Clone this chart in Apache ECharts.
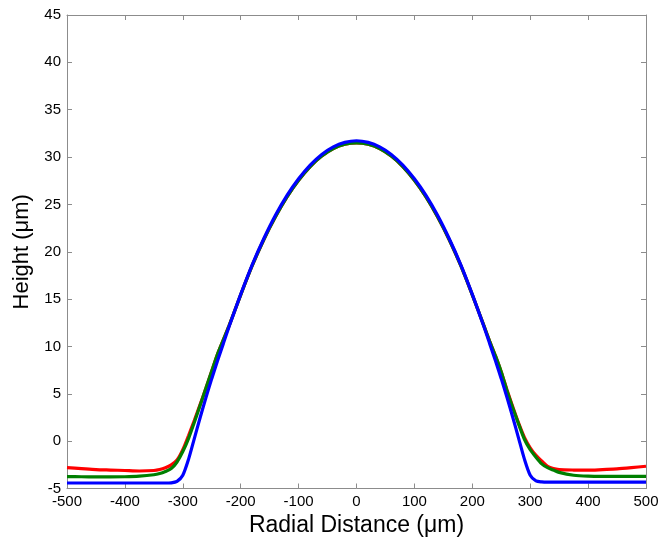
<!DOCTYPE html>
<html>
<head>
<meta charset="utf-8">
<script src="https://cdn.jsdelivr.net/npm/echarts@6/dist/echarts.min.js"></script>
<style>html,body{margin:0;padding:0;background:#fff}#c{width:660px;height:538px}</style>
</head>
<body>
<div id="c"></div>
<script>
var xs = [-500,-475,-450,-425,-400,-375,-350,-340,-330,-320,-310,-300,-290,-280,-270,-260,-250,-240,-230,-220,-200,-180,-160,-140,-120,-100,-80,-60,-40,-20,0,20,40,60,80,100,120,140,160,180,200,220,230,240,250,260,270,280,290,300,310,320,330,340,350,375,400,425,450,475,500];
var redY = [-2.8,-2.9,-3.0,-3.05,-3.1,-3.15,-3.1,-3.0,-2.8,-2.5,-2.0,-0.9,0.6,2.2,3.9,5.6,7.4,9.2,10.7,12.2,15.45,18.55,21.3,23.7,25.8,27.55,29.0,30.1,30.9,31.35,31.5,31.35,30.9,30.1,29.0,27.55,25.8,23.7,21.3,18.55,15.45,12.2,10.55,9.0,7.3,5.4,3.6,1.9,0.4,-0.7,-1.5,-2.1,-2.65,-2.9,-3.0,-3.05,-3.07,-3.0,-2.93,-2.8,-2.65];
var greenY = [-3.75,-3.76,-3.77,-3.77,-3.76,-3.7,-3.55,-3.42,-3.2,-2.9,-2.2,-1.1,0.3,2.0,3.8,5.6,7.4,9.2,10.7,12.2,15.45,18.55,21.3,23.7,25.8,27.55,29.0,30.1,30.9,31.35,31.5,31.35,30.9,30.1,29.0,27.55,25.8,23.7,21.3,18.55,15.45,12.2,10.55,9.0,7.3,5.3,3.5,1.8,0.2,-0.9,-1.7,-2.4,-2.8,-3.05,-3.3,-3.6,-3.7,-3.72,-3.72,-3.72,-3.72];
var blueY = [-4.42,-4.42,-4.42,-4.42,-4.42,-4.42,-4.42,-4.42,-4.42,-4.4,-4.25,-3.6,-1.9,0.3,2.5,4.6,6.6,8.5,10.3,12.1,15.5,18.65,21.4,23.85,25.95,27.7,29.15,30.28,31.08,31.55,31.72,31.55,31.08,30.28,29.15,27.7,25.95,23.85,21.4,18.65,15.5,12.1,10.3,8.5,6.6,4.6,2.5,0.3,-1.9,-3.6,-4.2,-4.3,-4.32,-4.32,-4.32,-4.32,-4.32,-4.32,-4.32,-4.32,-4.32];
var xTicks = [-500,-400,-300,-200,-100,0,100,200,300,400,500];
var yTicks = [-5,0,5,10,15,20,25,30,35,40,45];
var xTitle = 'Radial Distance (\u03bcm)';
var yTitle = 'Height (\u03bcm)';

function pairs(ys){ return xs.map(function(x,i){ return [x, ys[i]]; }); }

var axisColor = '#8c8c8c';
var font = 'Liberation Sans, Arial, sans-serif';
var chart = echarts.init(document.getElementById('c'), null, {renderer:'canvas'});
var baseX = {
  type:'value', min:-500, max:500, interval:100,
  axisLine:{show:true, onZero:false, lineStyle:{color:axisColor, width:1}},
  axisTick:{show:true, inside:true, length:5, lineStyle:{color:axisColor}},
  splitLine:{show:false}
};
var baseY = {
  type:'value', min:-5, max:45, interval:5,
  axisLine:{show:true, onZero:false, lineStyle:{color:axisColor, width:1}},
  axisTick:{show:true, inside:true, length:5, lineStyle:{color:axisColor}},
  splitLine:{show:false}
};
function lineSeries(name, ys, color){
  return {name:name, type:'line', xAxisIndex:0, yAxisIndex:0, data:pairs(ys), showSymbol:false, symbol:'none',
    smooth:0.25, lineStyle:{color:color, width:3.2}, animation:false, z:2};
}
chart.setOption({
  animation:false,
  backgroundColor:'#ffffff',
  grid:{left:67, right:14, top:15, bottom:49.5, containLabel:false, outerBoundsMode:'none'},
  xAxis:[
    Object.assign({}, baseX, {position:'bottom',
      name:xTitle, nameLocation:'middle', nameGap:23,
      nameTextStyle:{fontFamily:font, fontSize:23, color:'#000'},
      axisLabel:{show:true, margin:6, fontFamily:font, fontSize:15, color:'#000',
        formatter:function(v){ return xTicks.indexOf(v)>=0 ? String(v) : ''; }}}),
    Object.assign({}, baseX, {position:'top', axisLabel:{show:false}})
  ],
  yAxis:[
    Object.assign({}, baseY, {position:'left',
      name:yTitle, nameLocation:'middle', nameGap:34, nameRotate:90,
      nameTextStyle:{fontFamily:font, fontSize:22, color:'#000'},
      axisLabel:{show:true, margin:6, fontFamily:font, fontSize:15, color:'#000',
        formatter:function(v){ return yTicks.indexOf(v)>=0 ? String(v) : ''; }}}),
    Object.assign({}, baseY, {position:'right', axisLabel:{show:false}})
  ],
  series:[
    lineSeries('red', redY, '#ff0000'),
    lineSeries('green', greenY, '#007f00'),
    lineSeries('blue', blueY, '#0000ff')
  ]
});
</script>
</body>
</html>
